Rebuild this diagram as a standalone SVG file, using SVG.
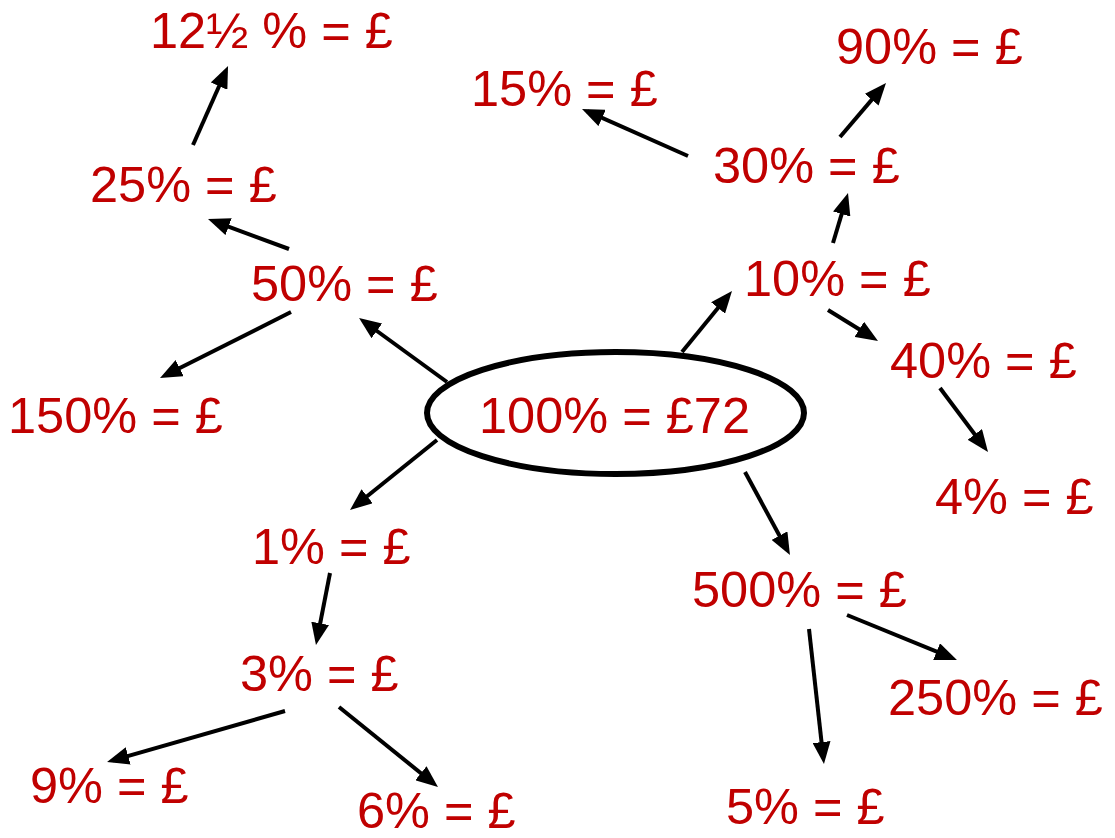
<svg xmlns="http://www.w3.org/2000/svg" width="1115" height="838" viewBox="0 0 1115 838">
<style>
.t{font-family:"Liberation Sans",Arial,sans-serif;font-size:50.5px;fill:#C00000}
.c line{stroke:#000;stroke-width:4;fill:none;marker-end:url(#ah)}
</style>
<defs>
<marker id="ah" markerUnits="userSpaceOnUse" markerWidth="22" markerHeight="18" refX="16" refY="9" orient="auto">
<path d="M0,0 L22,9 L0,18 Z" fill="#000"/>
</marker>
</defs>
<rect width="1115" height="838" fill="#fff"/>
<g id="connectors" class="c">
<line x1="193" y1="145" x2="225.6" y2="71.5"/>
<line x1="289" y1="249" x2="213.6" y2="221.1"/>
<line x1="291" y1="312" x2="165.4" y2="375.3"/>
<line x1="447" y1="382" x2="363.9" y2="321.5"/>
<line x1="682" y1="352" x2="728.2" y2="295.6"/>
<line x1="833" y1="243" x2="846.3" y2="198.7"/>
<line x1="688" y1="156" x2="587.5" y2="111.4"/>
<line x1="840" y1="137" x2="882.1" y2="87.6"/>
<line x1="828" y1="310" x2="872.9" y2="337.8"/>
<line x1="940" y1="388" x2="984.4" y2="447.2"/>
<line x1="745" y1="472" x2="787.1" y2="549.7"/>
<line x1="847" y1="615" x2="951.4" y2="657.7"/>
<line x1="809" y1="629" x2="823.3" y2="758"/>
<line x1="437" y1="440" x2="354.7" y2="506.2"/>
<line x1="330" y1="573" x2="317.1" y2="639.1"/>
<line x1="285" y1="711" x2="112.8" y2="760.3"/>
<line x1="339" y1="707" x2="433.3" y2="783.2"/>
</g>
<g id="n100">
<ellipse cx="615.5" cy="413" rx="188.5" ry="61" fill="#fff" stroke="#000" stroke-width="6"/>
<text class="t" x="479" y="433">100% = £72</text>
</g>
<g id="n12h"><text class="t" x="150" y="48">12½ % = £</text></g>
<g id="n25"><text class="t" x="90" y="202">25% = £</text></g>
<g id="n50"><text class="t" x="251" y="301">50% = £</text></g>
<g id="n150"><text class="t" x="8" y="433">150% = £</text></g>
<g id="n15"><text class="t" x="471" y="106">15% = £</text></g>
<g id="n90"><text class="t" x="836" y="64">90% = £</text></g>
<g id="n30"><text class="t" x="713" y="183">30% = £</text></g>
<g id="n10"><text class="t" x="744" y="296">10% = £</text></g>
<g id="n40"><text class="t" x="890" y="378">40% = £</text></g>
<g id="n4"><text class="t" x="935" y="514">4% = £</text></g>
<g id="n1"><text class="t" x="252" y="564">1% = £</text></g>
<g id="n3"><text class="t" x="240" y="691">3% = £</text></g>
<g id="n9"><text class="t" x="30" y="803">9% = £</text></g>
<g id="n6"><text class="t" x="357" y="828">6% = £</text></g>
<g id="n500"><text class="t" x="692" y="607">500% = £</text></g>
<g id="n250"><text class="t" x="888" y="715">250% = £</text></g>
<g id="n5"><text class="t" x="726" y="824">5% = £</text></g>
</svg>
